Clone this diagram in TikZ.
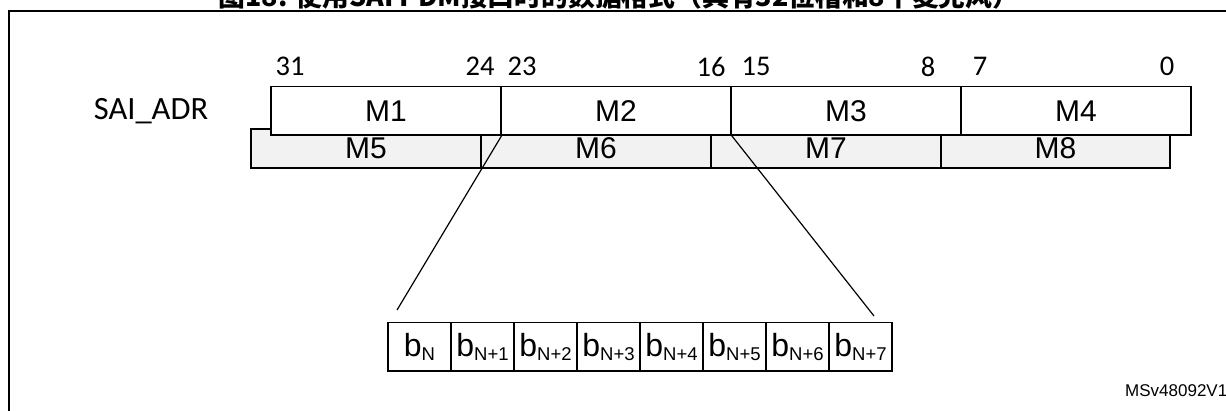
\documentclass[tikz,border=0pt]{standalone}
\usepackage{fontspec}
\setmainfont{Liberation Sans}
\newfontfamily\calibrifont{Carlito}
\newfontfamily\cjkfont{Noto Sans CJK SC}
\usepackage{tikz}
\usetikzlibrary{positioning}
\definecolor{slotgray}{RGB}{242,242,242}
\newcommand{\bitcell}[1]{{\fontsize{32}{32}\selectfont b}{\fontsize{18.5}{18.5}\selectfont\raisebox{-3.3pt}{#1}}}

\begin{document}
\begin{tikzpicture}[
    x=1pt, y=-1pt,
    slot/.style={draw, line width=1.3pt, fill=white, minimum width=230pt, minimum height=48.3pt, inner sep=0pt, font=\fontsize{30}{30}\selectfont},
    backslot/.style={slot, fill=slotgray, minimum height=39pt},
    bitno/.style={font=\calibrifont\fontsize{28.5}{28.5}\selectfont, inner sep=0pt},
    bitbox/.style={draw, line width=1.3pt, minimum width=63pt, minimum height=48.3pt, inner sep=0pt},
    link/.style={line width=1.2pt}
]
    \useasboundingbox (0,0) rectangle (1226,410);
    \draw[line width=2.5pt] (1240,11) -- (9,11) -- (9,420);

    \node[anchor=base] (title) at (619,6.5) {\cjkfont\bfseries\fontsize{26.8}{26.8}\selectfont 图18. 使用SAI PDM接口时的数据格式（具有32位槽和8个麦克风）};

    % register label and bit numbers
    \node[font=\calibrifont\fontsize{32.5}{32.5}\selectfont, inner sep=0pt] (reg) at (151,110.8) {SAI\_ADR};
    \node[bitno] (n31) at (290,66.7) {31};
    \node[bitno] (n24) at (480,66.7) {24};
    \node[bitno] (n23) at (522,66.7) {23};
    \node[bitno] (n16) at (711,66.7) {16};
    \node[bitno] (n15) at (756,66.7) {15};
    \node[bitno] (n8) at (928,66.7) {8};
    \node[bitno] (n7) at (980,66.7) {7};
    \node[bitno] (n0) at (1167,66.7) {0};

    % back row
    \node[backslot] (m5) at (366,148.5) {M5};
    \node[backslot] (m6) at (596,148.5) {M6};
    \node[backslot] (m7) at (826,148.5) {M7};
    \node[backslot, minimum width=229pt] (m8) at (1055.5,148.5) {M8};

    % front row
    \node[slot] (m1) at (386,110.8) {M1};
    \node[slot] (m2) at (616,110.8) {M2};
    \node[slot] (m3) at (846,110.8) {M3};
    \node[slot] (m4) at (1076,110.8) {M4};

    % bits of M2
    \node[bitbox] (b0) at (419.5,346.85) {\bitcell{N}};
    \node[bitbox] (b1) at (482.5,346.85) {\bitcell{N+1}};
    \node[bitbox] (b2) at (545.5,346.85) {\bitcell{N+2}};
    \node[bitbox] (b3) at (608.5,346.85) {\bitcell{N+3}};
    \node[bitbox] (b4) at (671.5,346.85) {\bitcell{N+4}};
    \node[bitbox] (b5) at (734.5,346.85) {\bitcell{N+5}};
    \node[bitbox] (b6) at (797.5,346.85) {\bitcell{N+6}};
    \node[bitbox] (b7) at (860.5,346.85) {\bitcell{N+7}};

    \coordinate (lefttip) at (397,310);
    \coordinate (righttip) at (874,316);
    \draw[link] (m1.south east) -- (lefttip);
    \draw[link] (m2.south east) -- (righttip);

    \node[anchor=base west, inner sep=0pt, font=\fontsize{17}{17}\selectfont] (docid) at (1125,396.7) {MSv48092V1};
\end{tikzpicture}
\end{document}
